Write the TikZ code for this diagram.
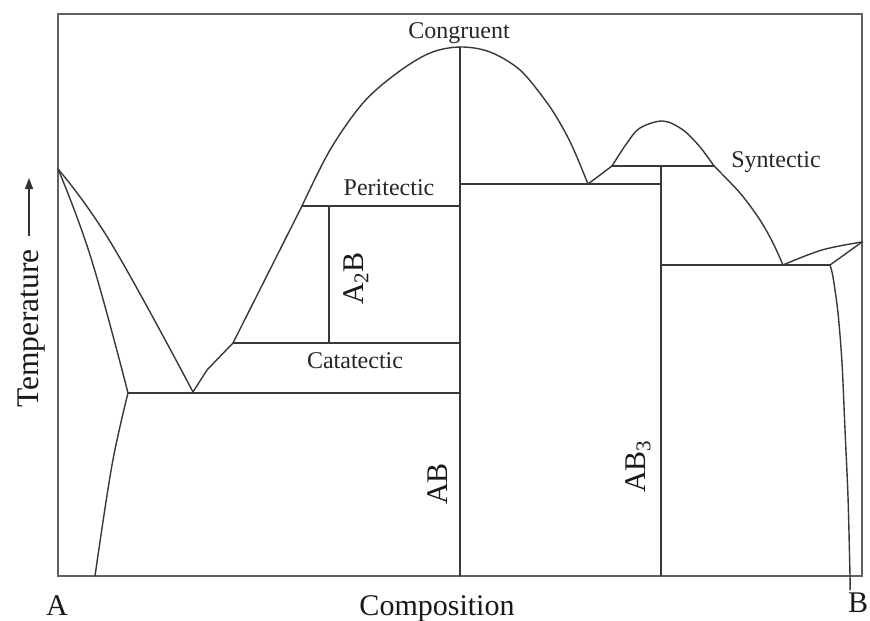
\documentclass[tikz,border=0pt]{standalone}
\usepackage{fontspec}
\setmainfont{Liberation Serif}
\usetikzlibrary{arrows.meta}
\begin{document}
\begin{tikzpicture}[x=1pt,y=-1pt,
  phase/.style={line width=1.4pt, draw=black!78, line join=round, line cap=round},
  frame/.style={line width=2pt, draw=black!62},
  small/.style={font=\fontsize{24}{28}\selectfont, inner sep=0, text=black!85},
  big/.style={font=\fontsize{30}{34}\selectfont, inner sep=0, text=black!90}]
\useasboundingbox (0,0) rectangle (870,621);
\fill[white] (0,0) rectangle (870,621);

% key points
\coordinate (Am) at (58,169);
\coordinate (S1) at (128,393);
\coordinate (E1) at (193,392);
\coordinate (EuR) at (460,393);
\coordinate (C1) at (233,343);
\coordinate (CatR) at (460,343);
\coordinate (P1) at (302,206);
\coordinate (A2Btop) at (329,206);
\coordinate (A2Bbot) at (329,343);
\coordinate (PerR) at (460,206);
\coordinate (Cong) at (460,47);
\coordinate (ABbot) at (460,576);
\coordinate (E2) at (588,184);
\coordinate (E2L) at (460,184);
\coordinate (E2R) at (661,184);
\coordinate (Sy1) at (612,166);
\coordinate (Sy2) at (714,166);
\coordinate (AB3top) at (661,166);
\coordinate (AB3bot) at (661,576);
\coordinate (E3) at (783,265);
\coordinate (E3L) at (661,265);
\coordinate (S3) at (830,265);
\coordinate (Bm) at (862,242);
\coordinate (SvL) at (95,576);
\coordinate (SvR) at (850,590);

% frame
\draw[frame] (58,14) rectangle (862,576);

% left side
\draw[phase] plot[smooth, tension=0.7] coordinates {(Am) (111,243) (E1)};
\draw[phase] plot[smooth, tension=0.7] coordinates {(Am) (91,258) (S1)};
\draw[phase] plot[smooth, tension=0.6] coordinates {(S1) (112,465) (SvL)};
\draw[phase] (E1) -- (207,370) -- (C1) -- (P1);

% horizontals
\draw[phase] (S1) -- (EuR);
\draw[phase] (C1) -- (CatR);
\draw[phase] (P1) -- (PerR);
\draw[phase] (A2Btop) -- (A2Bbot);
\draw[phase] (Cong) -- (ABbot);
\draw[phase] (E2L) -- (E2R);
\draw[phase] (Sy1) -- (Sy2);
\draw[phase] (AB3top) -- (AB3bot);
\draw[phase] (E3L) -- (S3);

% congruent dome
\draw[phase] plot[smooth, tension=0.55] coordinates {(P1) (330,150) (363,103) (397,73) (430,53) (Cong) (490,52) (520,70) (545,100) (560,123) (573,148) (E2)};
\draw[phase] (E2) -- (Sy1);

% syntectic dome
\draw[phase] plot[smooth, tension=0.55] coordinates {(Sy1) (627,143) (640,128) (663,121) (683,130) (700,147) (Sy2)};
\draw[phase] plot[smooth, tension=0.55] coordinates {(Sy2) (740,193) (760,220) (773,243) (E3)};
\draw[phase] plot[smooth, tension=0.6] coordinates {(E3) (822,250) (Bm)};
\draw[phase] (S3) -- (Bm);
\draw[phase] plot[smooth, tension=0.5] coordinates {(S3) (833,277) (838,313) (842,363) (845,430) (848,497) (850,576) (SvR)};

% labels
\node[small, anchor=base] (congl) at (459,38) {Congruent};
\node[small, anchor=base] (peril) at (389,195) {Peritectic};
\node[small, anchor=base] (catal) at (355,368) {Catatectic};
\node[small, anchor=base] (syntl) at (776,167) {Syntectic};

\node[big, rotate=90, anchor=base west] (a2b) at (363,305) {A\textsubscript{2}B};
\node[big, rotate=90, anchor=base west] (ab) at (447,505) {AB};
\node[big, rotate=90, anchor=base west] (ab3) at (645,493) {AB\textsubscript{3}};

\node[big, font=\fontsize{31.5}{35}\selectfont, rotate=90, anchor=base west] (temp) at (38,408) {Temperature};
\coordinate (tail) at (29,236);
\coordinate (tip) at (29,178);
\draw[line width=1.3pt, draw=black!80, -{Triangle[length=11pt,width=8pt]}] (tail) -- (tip);

\node[big, anchor=base] (comp) at (437,615) {Composition};
\node[big, anchor=base] (la) at (57,615) {A};
\node[big, anchor=base] (lb) at (858,612) {B};
\end{tikzpicture}
\end{document}
